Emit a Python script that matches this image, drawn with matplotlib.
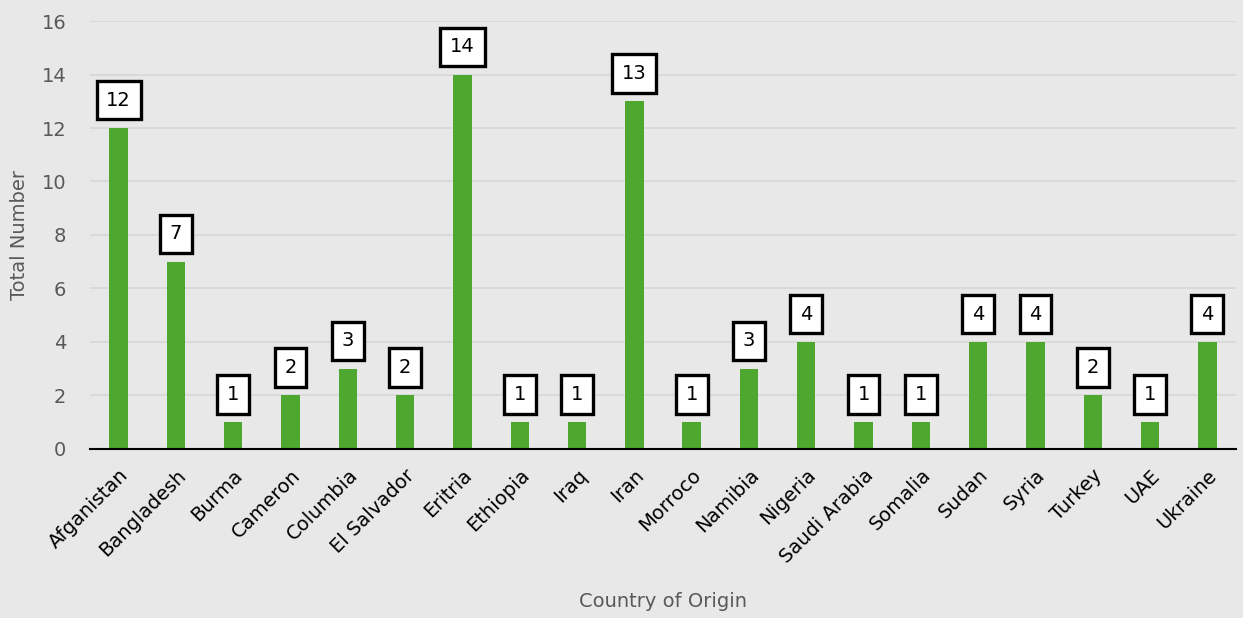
import matplotlib.pyplot as plt

countries = ['Afganistan', 'Bangladesh', 'Burma', 'Cameron', 'Columbia', 'El Salvador',
             'Eritria', 'Ethiopia', 'Iraq', 'Iran', 'Morroco', 'Namibia', 'Nigeria',
             'Saudi Arabia', 'Somalia', 'Sudan', 'Syria', 'Turkey', 'UAE', 'Ukraine']
totals = [12, 7, 1, 2, 3, 2, 14, 1, 1, 13, 1, 3, 4, 1, 1, 4, 4, 2, 1, 4]

bg = '#E8E8E8'
fig = plt.figure(figsize=(12.43, 6.18), dpi=100, facecolor=bg)
ax = fig.add_axes([0.0724, 0.2735, 0.922, 0.6925])
ax.set_facecolor(bg)

x = range(len(countries))
ax.bar(x, totals, width=0.32, color='#4EA72E', zorder=3)

for xi, v in zip(x, totals):
    ax.annotate(str(v), (xi, v), xytext=(0, 20), textcoords='offset points',
                ha='center', va='center', fontsize=14, color='black', zorder=4,
                bbox=dict(boxstyle='square,pad=0.5', fc='white', ec='black', lw=2.4))

ax.set_xlim(-0.5, len(countries) - 0.5)
ax.set_ylim(0, 16)
ax.set_yticks(range(0, 17, 2))
ax.yaxis.grid(True, color='#D6D6D6', lw=1.2, zorder=0)
for s in ['top', 'right', 'left']:
    ax.spines[s].set_visible(False)
ax.spines['bottom'].set_color('black')
ax.spines['bottom'].set_linewidth(1.5)
ax.spines['bottom'].set_zorder(5)
ax.tick_params(axis='both', length=0)
ax.tick_params(axis='y', labelsize=14, labelcolor='#595959', pad=17)
ax.set_xticks(list(x))
ax.set_xticklabels(countries, rotation=45, ha='right', rotation_mode='anchor',
                   fontsize=14, color='black')
ax.tick_params(axis='x', pad=12)
ax.set_ylabel('Total Number', fontsize=14, color='#595959', labelpad=9)
ax.set_xlabel('Country of Origin', fontsize=14, color='#595959', labelpad=18)

fig.savefig('out.png', dpi=100, facecolor=bg)
